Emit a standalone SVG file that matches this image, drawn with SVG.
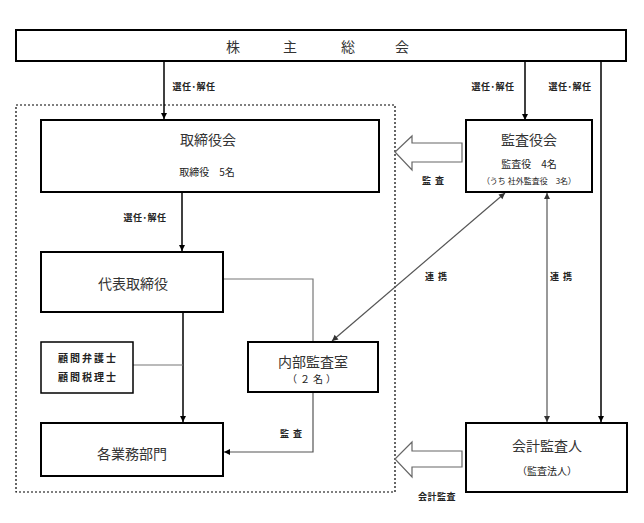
<svg xmlns="http://www.w3.org/2000/svg" width="644" height="523" viewBox="0 0 644 523">
<defs>
<marker id="ah" markerWidth="8" markerHeight="8" refX="7" refY="4" orient="auto-start-reverse" markerUnits="userSpaceOnUse">
<path d="M1,1 L7,4 L1,7 Z" fill="#000"/>
</marker>
<marker id="ahg" markerWidth="8" markerHeight="8" refX="7" refY="4" orient="auto-start-reverse" markerUnits="userSpaceOnUse">
<path d="M1,1 L7,4 L1,7 Z" fill="#333"/>
</marker>
</defs>
<style>
text{font-family:"Noto Sans CJK JP","Noto Sans",sans-serif;fill:#222;text-anchor:middle;dominant-baseline:central}
.box{fill:#fff;stroke:#000;stroke-width:2}
.t{font-size:14px;fill:#333}
.s{font-size:10px}
.xs{font-size:9px;font-weight:bold;letter-spacing:0.5px}
.ln{fill:none;stroke:#000;stroke-width:1.5}
.gl{fill:none;stroke:#777;stroke-width:1.2}
.hollow{fill:#fff;stroke:#666;stroke-width:1.2}
</style>
<rect width="644" height="523" fill="#fff"/>
<rect x="16" y="105" width="379" height="387" fill="none" stroke="#000" stroke-width="1.2" stroke-dasharray="2,2"/>
<g id="connectors">
<line class="ln" x1="164" y1="61" x2="164" y2="119" marker-end="url(#ah)"/>
<line class="ln" x1="525" y1="61" x2="525" y2="120" marker-end="url(#ah)"/>
<line class="ln" x1="601" y1="61" x2="601" y2="422" marker-end="url(#ah)"/>
<line class="ln" x1="182" y1="192" x2="182" y2="251" marker-end="url(#ah)"/>
<line class="ln" x1="183" y1="312" x2="183" y2="422" marker-end="url(#ah)"/>
<line class="gl" x1="133" y1="365" x2="183" y2="365"/>
<polyline class="gl" points="223,279 313,279 313,341"/>
<polyline class="gl" points="313,392 313,452 224,452" marker-end="url(#ah)" style="stroke:#555"/>
<line class="gl" x1="505" y1="193" x2="332" y2="341" marker-start="url(#ahg)" marker-end="url(#ahg)" style="stroke:#555"/>
<line class="gl" x1="547" y1="193" x2="547" y2="422" marker-start="url(#ahg)" marker-end="url(#ahg)" style="stroke:#555"/>
<path class="hollow" d="M462,143 L412,143 L412,136 L395,152 L412,170 L412,162 L462,162 Z"/>
<path class="hollow" d="M462,451 L412,451 L412,442 L395,459 L412,477 L412,467 L462,467 Z"/>
<text class="xs" x="194" y="86">選任･解任</text>
<text class="xs" x="493" y="86">選任･解任</text>
<text class="xs" x="570" y="86">選任･解任</text>
<text class="xs" x="145" y="217">選任･解任</text>
<text class="xs" x="435" y="180" style="letter-spacing:4px">監査</text>
<text class="xs" x="438" y="276" style="letter-spacing:4px">連携</text>
<text class="xs" x="563" y="276" style="letter-spacing:4px">連携</text>
<text class="xs" x="293" y="433" style="letter-spacing:4px">監査</text>
<text class="xs" x="437" y="496">会計監査</text>
</g>
<g id="shareholders">
<rect class="box" x="16" y="30" width="610" height="31"/>
<text class="t" x="233" y="46">株</text>
<text class="t" x="290" y="46">主</text>
<text class="t" x="348" y="46">総</text>
<text class="t" x="402" y="46">会</text>
</g>
<g id="board">
<rect class="box" x="41" y="120" width="338" height="72"/>
<text class="t" x="208" y="139">取締役会</text>
<text class="s" x="207" y="171">取締役　5名</text>
</g>
<g id="auditors">
<rect class="box" x="466" y="120" width="126" height="72"/>
<text class="t" x="529" y="139">監査役会</text>
<text class="s" x="529" y="163">監査役　4名</text>
<text style="font-size:8px" x="529" y="180">（うち 社外監査役　3名）</text>
</g>
<g id="ceo">
<rect class="box" x="41" y="252" width="182" height="60"/>
<text class="t" x="133" y="283">代表取締役</text>
</g>
<g id="advisors">
<rect class="box" x="41" y="342" width="92" height="51" style="stroke-width:1.5"/>
<text class="s" x="88" y="357" style="font-weight:bold;letter-spacing:2px">顧問弁護士</text>
<text class="s" x="88" y="376" style="font-weight:bold;letter-spacing:2px">顧問税理士</text>
</g>
<g id="internal-audit">
<rect class="box" x="248" y="342" width="130" height="50"/>
<text class="t" x="313" y="361">内部監査室</text>
<text class="s" x="313" y="378" style="letter-spacing:3px">（２名）</text>
</g>
<g id="departments">
<rect class="box" x="41" y="423" width="182" height="53"/>
<text class="t" x="132" y="453">各業務部門</text>
</g>
<g id="accounting-auditor">
<rect class="box" x="466" y="423" width="161" height="69"/>
<text class="t" x="547" y="445">会計監査人</text>
<text class="s" x="547" y="470">（監査法人）</text>
</g>
</svg>
